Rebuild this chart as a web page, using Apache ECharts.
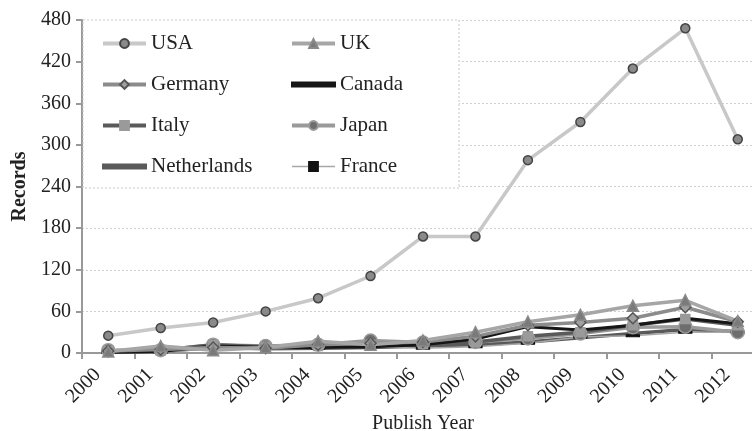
<!DOCTYPE html>
<html>
<head>
<meta charset="utf-8">
<script src="https://cdn.jsdelivr.net/npm/echarts@6/dist/echarts.min.js"></script>
<style>
  html, body { margin: 0; padding: 0; background: #fff; }
  #chart { width: 752px; height: 431px; }
</style>
</head>
<body>
<div id="chart"></div>
<script>
// data
const years = ['2000', '2001', '2002', '2003', '2004', '2005', '2006', '2007', '2008', '2009', '2010', '2011', '2012'];
const usa = [25, 36, 44, 60, 79, 111, 168, 168, 278, 333, 410, 468, 308];
const uk = [2, 10, 4, 8, 17, 12, 18, 30, 45, 55, 68, 76, 46];
const germany = [3, 5, 8, 7, 12, 14, 16, 24, 40, 44, 50, 66, 45];
const canada = [1, 2, 10, 8, 8, 9, 12, 20, 38, 33, 40, 50, 42];
const italy = [3, 4, 12, 9, 10, 12, 13, 16, 24, 30, 40, 49, 40];
const japan = [4, 4, 12, 10, 12, 18, 15, 16, 21, 28, 37, 38, 30];
const netherlands = [1, 2, 8, 6, 7, 8, 10, 12, 16, 22, 28, 34, 31];
const france = [1, 1, 7, 7, 7, 9, 7, 9, 14, 23, 25, 30, 30];
const yTicks = [0, 60, 120, 180, 240, 300, 360, 420, 480];

const font = 'Liberation Serif';
// plain thick bar for series drawn without markers (keeps the 43x11 legend box)
const plainLineIcon = 'path://M0,0L0,0M0,3.5L43,3.5L43,7.5L0,7.5ZM43,11L43,11';
const dashSymbol = 'path://M0,0L12,0L12,5L0,5Z';

function line(name, data, lineColor, width, symbol, size, fill, border, z) {
  return {
    name: name,
    type: 'line',
    data: data,
    z: z,
    symbol: symbol,
    symbolSize: size,
    symbolKeepAspect: true,
    showSymbol: symbol !== 'none',
    lineStyle: { color: lineColor, width: width },
    itemStyle: { color: fill, borderColor: border, borderWidth: 1.5 },
    emphasis: { disabled: true },
    animation: false
  };
}

const chart = echarts.init(document.getElementById('chart'), null, { renderer: 'canvas' });

const legendBase = {
  orient: 'vertical',
  top: 33,
  padding: 0,
  itemWidth: 43,
  itemHeight: 11,
  itemGap: 20,
  z: 10,
  selectedMode: false,
  lineStyle: { width: 4 },
  textStyle: { fontFamily: font, fontSize: 21, color: '#222' }
};

chart.setOption({
  backgroundColor: '#fff',
  textStyle: { fontFamily: font },
  grid: { left: 82, top: 20, right: -12, bottom: 78, outerBoundsMode: 'none', containLabel: false },
  graphic: [{
    type: 'rect',
    z: 5,
    shape: { x: 83, y: 20, width: 376, height: 168 },
    style: { fill: '#fff', stroke: '#c8c8c8', lineWidth: 1, lineDash: [2, 2] }
  }],
  legend: [
    Object.assign({}, legendBase, {
      left: 101,
      data: ['USA', 'Germany', 'Italy', { name: 'Netherlands', icon: plainLineIcon }]
    }),
    Object.assign({}, legendBase, {
      left: 290,
      data: ['UK', { name: 'Canada', icon: plainLineIcon }, 'Japan', { name: 'France', lineStyle: { width: 1.5 } }]
    })
  ],
  xAxis: {
    type: 'category',
    data: years,
    boundaryGap: true,
    name: 'Publish Year',
    nameLocation: 'middle',
    nameGap: 61,
    nameTextStyle: { fontFamily: font, fontSize: 20, color: '#222' },
    axisLine: { lineStyle: { color: '#999', width: 2 } },
    axisTick: { show: true, length: 6, lineStyle: { color: '#999', width: 2 } },
    axisLabel: { rotate: 45, fontFamily: font, fontSize: 20, color: '#222', margin: 8, padding: [0, 15, 0, 0] }
  },
  yAxis: {
    type: 'value',
    min: 0,
    max: yTicks[yTicks.length - 1],
    interval: 60,
    name: 'Records',
    nameLocation: 'middle',
    nameGap: 52,
    nameTextStyle: { fontFamily: font, fontSize: 20, fontWeight: 'bold', color: '#222' },
    axisLine: { show: true, lineStyle: { color: '#999', width: 2 } },
    axisTick: { show: true, length: 6, lineStyle: { color: '#999', width: 2 } },
    axisLabel: { fontFamily: font, fontSize: 20, color: '#222', margin: 11 },
    splitLine: { lineStyle: { color: '#d0d0d0', type: [2, 2], width: 1 } }
  },
  series: [
    line('Netherlands', netherlands, '#5a5a5a', 3.5, 'none', 0, '#5a5a5a', '#5a5a5a', 2),
    line('France', france, '#a8a8a8', 1.5, dashSymbol, [12, 5], '#111', '#111', 3),
    line('Japan', japan, '#9a9a9a', 3.5, 'circle', 13, '#6e6e6e', '#9a9a9a', 3),
    line('Italy', italy, '#5a5a5a', 3.5, 'rect', 9, '#9a9a9a', '#9a9a9a', 3),
    line('Canada', canada, '#161616', 3, 'none', 0, '#161616', '#161616', 3),
    line('Germany', germany, '#8c8c8c', 3.5, 'diamond', 11, '#a0a0a0', '#555', 4),
    line('UK', uk, '#a6a6a6', 3.5, 'triangle', 11, '#7a7a7a', '#8a8a8a', 4),
    line('USA', usa, '#c8c8c8', 3.5, 'circle', 9, '#8a8a8a', '#444', 5)
  ]
});
</script>
</body>
</html>
